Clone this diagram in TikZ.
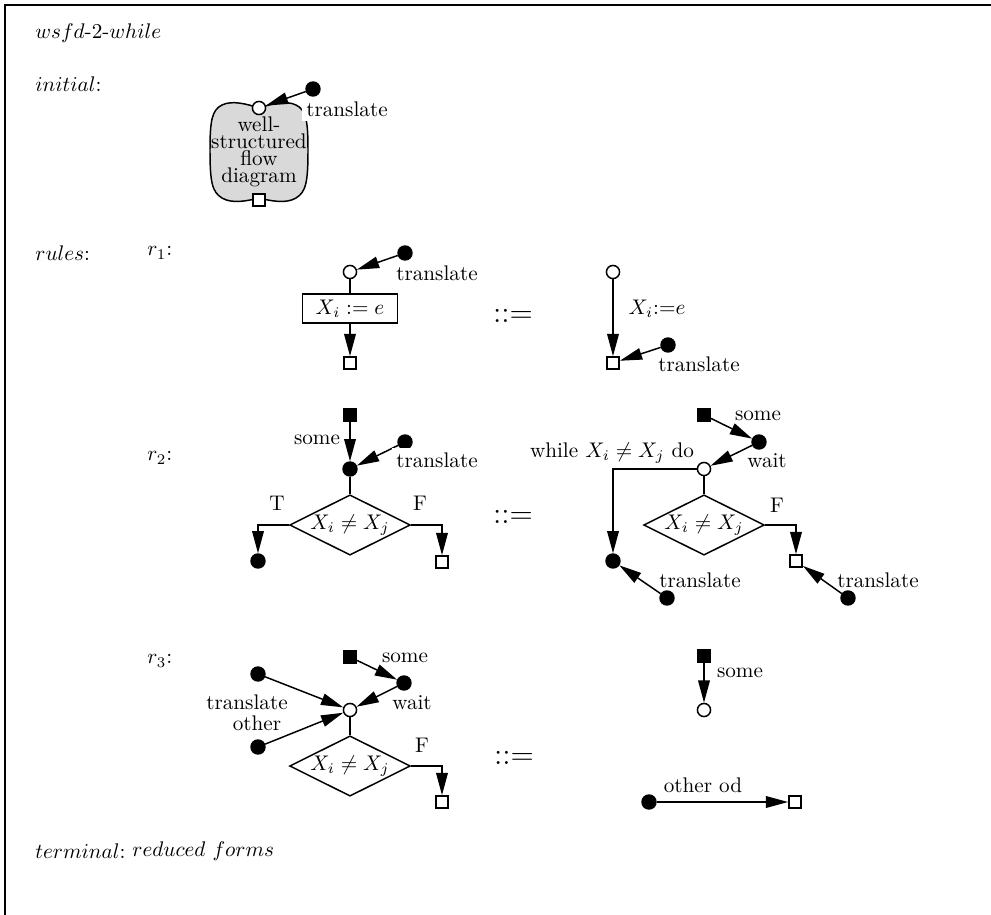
\documentclass[tikz,border=0pt]{standalone}
\usetikzlibrary{arrows.meta,shapes.geometric}
\begin{document}
\begin{tikzpicture}[x=0.4724pt,y=-0.4724pt,
  ln/.style={line width=0.7pt},
  arr/.style={ln,-{Triangle[length=10.5pt,width=5.5pt]}},
  odot/.style={circle,draw,fill=white,ln,inner sep=0pt,minimum size=6.2pt},
  fdot/.style={circle,draw,fill=black,ln,inner sep=0pt,minimum size=6.6pt},
  osq/.style={rectangle,draw,fill=white,ln,inner sep=0pt,minimum size=5.8pt},
  fsq/.style={rectangle,draw,fill=black,ln,inner sep=0pt,minimum size=6pt},
  lbl/.style={inner sep=1pt},
  wlbl/.style={fill=white,inner sep=2.2pt},
  cond/.style={diamond,draw,ln,aspect=2,inner sep=0pt,minimum width=51pt,minimum height=27pt},
  defs/.style={font=\Large},
  head/.style={anchor=west,inner sep=0pt}]
\useasboundingbox (0,0) rectangle (991,915);
\draw[line width=1pt] (5,915) -- (5,5) -- (991,5);

% headings
\node[head] (title) at (35,33) {$wsfd$-2-$while$};
\node[head] (hinit) at (35,84) {$initial$:};
\node[head] (hrules) at (35,253) {$rules$:};
\node[head] (r1) at (147,253) {$r_1$:};
\node[head] (r2) at (147,458) {$r_2$:};
\node[head] (r3) at (147,661) {$r_3$:};
\node[head] (hterm) at (35,851) {$terminal$:};
\node[head] (hred) at (132,851) {$reduced\ forms$};

% initial
\draw[ln,fill=gray!30] (259,108) .. controls (247,104) and (232,100) .. (222,105)
  .. controls (212,110) and (210,120) .. (210,150)
  .. controls (210,182) and (212,192) .. (222,198)
  .. controls (232,204) and (247,201) .. (259,198)
  .. controls (271,201) and (286,204) .. (296,198)
  .. controls (306,192) and (308,182) .. (308,150)
  .. controls (308,120) and (306,110) .. (296,105)
  .. controls (286,100) and (271,104) .. (259,108) -- cycle;
\node[align=center,font=\fontsize{10}{6.3}\selectfont,inner sep=0pt] (wsfd) at (259,152) {well-\\structured\\flow\\diagram};
\node[odot] (i0) at (259,108) {};
\node[osq] (i1) at (259,200) {};
\node[fdot] (it) at (313,89) {};
\draw[arr] (it) -- (i0);
\node[wlbl] (itl) at (347,109) {translate};

% r1 left
\node[odot] (a0) at (350,272) {};
\node[fdot] (at) at (405,253) {};
\node[draw,ln,minimum width=45pt,minimum height=13.7pt,inner sep=0pt] (a1) at (350,308.5) {$X_i := e$};
\node[osq] (a2) at (350,363) {};
\draw[ln] (a0) -- (a1);
\draw[arr] (a1) -- (a2);
\draw[arr] (at) -- (a0);
\node[lbl] (atl) at (437,273) {translate};
\node[defs] (d1) at (513,316) {$::=$};

% r1 right
\node[odot] (b0) at (613,272) {};
\node[osq] (b1) at (613,363) {};
\node[fdot] (bt) at (668,345) {};
\draw[arr] (b0) -- (b1);
\draw[arr] (bt) -- (b1);
\node[lbl] (bl) at (657,309) {$X_i{:=}e$};
\node[lbl] (btl) at (699,364) {translate};

% r2 left
\node[fsq] (c0) at (350,415) {};
\node[fdot] (c1) at (350,469) {};
\node[fdot] (ct) at (405,442) {};
\node[cond] (c2) at (350,525) {$X_i\neq X_j$};
\node[fdot] (c3) at (258,561) {};
\node[osq] (c4) at (442,562) {};
\draw[arr] (c0) -- (c1);
\draw[arr] (ct) -- (c1);
\draw[ln] (c1) -- (c2);
\draw[arr] (c2.west) -| (c3);
\draw[arr] (c2.east) -| (c4);
\node[lbl] (csome) at (317,440) {some};
\node[wlbl] (ctl) at (437,460) {translate};
\node (cT) at (277,503) {T};
\node (cF) at (420,503) {F};
\node[defs] (d2) at (513,517) {$::=$};

% r2 right
\node[fsq] (e0) at (704,415) {};
\node[fdot] (e1) at (759,442) {};
\node[odot] (e2) at (704,469) {};
\node[cond] (e3) at (704,525) {$X_i\neq X_j$};
\node[fdot] (e4) at (613,561) {};
\node[osq] (e5) at (796,561) {};
\node[fdot] (e6) at (667,598) {};
\node[fdot] (e7) at (848,598) {};
\draw[arr] (e0) -- (e1);
\draw[arr] (e1) -- (e2);
\draw[ln] (e2) -- (e3);
\draw[arr] (e2.west) -| (e4);
\draw[arr] (e3.east) -| (e5);
\draw[arr] (e6) -- (e4);
\draw[arr] (e7) -- (e5);
\node[lbl] (esome) at (758,416) {some};
\node[lbl] (ewait) at (767,461) {wait};
\node[lbl] (ewhile) at (612,453) {while $X_i\neq X_j$ do};
\node (eF) at (777,505) {F};
\node[lbl] (et1) at (700,580) {translate};
\node[lbl] (et2) at (878,580) {translate};

% r3 left
\node[fsq] (f0) at (350,657) {};
\node[fdot] (f1) at (404,683) {};
\node[odot] (f2) at (350,710) {};
\node[fdot] (f3) at (258,674) {};
\node[fdot] (f4) at (258,747) {};
\node[cond] (f5) at (350,766) {$X_i\neq X_j$};
\node[osq] (f6) at (442,802) {};
\draw[arr] (f0) -- (f1);
\draw[arr] (f1) -- (f2);
\draw[arr] (f3) -- (f2);
\draw[arr] (f4) -- (f2);
\draw[ln] (f2) -- (f5);
\draw[arr] (f5.east) -| (f6);
\node[lbl] (fsome) at (405,658) {some};
\node[lbl] (fwait) at (412,703) {wait};
\node[lbl] (ftl) at (247,702) {translate};
\node[lbl] (fol) at (257,723) {other};
\node (fF) at (422,745) {F};
\node[defs] (d3) at (514,758) {$::=$};

% r3 right
\node[fsq] (g0) at (704,656) {};
\node[odot] (g1) at (704,710) {};
\draw[arr] (g0) -- (g1);
\node[lbl] (gsome) at (740,673) {some};
\node[fdot] (g2) at (649,802) {};
\node[osq] (g3) at (795,802) {};
\draw[arr] (g2) -- (g3);
\node[lbl] (gother) at (703,785) {other od};
\end{tikzpicture}
\end{document}
